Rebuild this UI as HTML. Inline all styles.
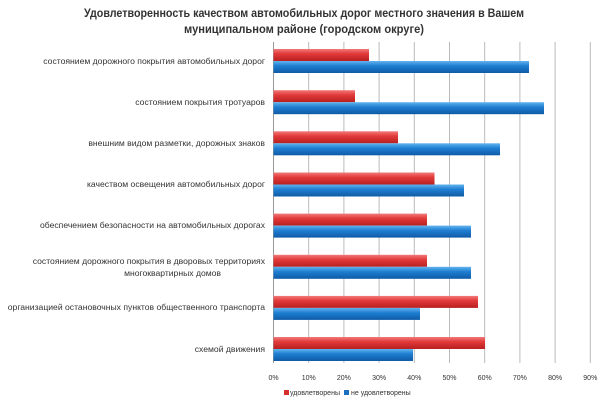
<!DOCTYPE html>
<html><head><meta charset="utf-8"><style>
html,body{margin:0;padding:0;background:#fff;}
svg{display:block;font-family:"Liberation Sans",sans-serif;}
</style></head><body>
<svg width="600" height="400" viewBox="0 0 600 400" xmlns="http://www.w3.org/2000/svg">
<defs>
<linearGradient id="r" x1="0" y1="0" x2="0" y2="1"><stop offset="0" stop-color="#f27a7a"/><stop offset="0.4" stop-color="#e23a3a"/><stop offset="1" stop-color="#b81f1f"/></linearGradient>
<linearGradient id="b" x1="0" y1="0" x2="0" y2="1"><stop offset="0" stop-color="#62b4ee"/><stop offset="0.4" stop-color="#1f7fd2"/><stop offset="1" stop-color="#0f5ba6"/></linearGradient>
</defs>
<text x="84" y="17" font-size="11.5" font-weight="bold" fill="#333" textLength="440" lengthAdjust="spacingAndGlyphs">Удовлетворенность качеством автомобильных дорог местного значения в Вашем</text>
<text x="184" y="33" font-size="11.5" font-weight="bold" fill="#333" textLength="240" lengthAdjust="spacingAndGlyphs">муниципальном районе (городском округе)</text>
<g stroke="#bbb" stroke-width="1">
<line x1="308.7" y1="42" x2="308.7" y2="363"/><line x1="343.9" y1="42" x2="343.9" y2="363"/><line x1="379.1" y1="42" x2="379.1" y2="363"/><line x1="414.3" y1="42" x2="414.3" y2="363"/><line x1="449.5" y1="42" x2="449.5" y2="363"/><line x1="484.7" y1="42" x2="484.7" y2="363"/><line x1="519.9" y1="42" x2="519.9" y2="363"/><line x1="555.1" y1="42" x2="555.1" y2="363"/><line x1="590.3" y1="42" x2="590.3" y2="363"/>
</g>
<line x1="273.5" y1="42" x2="273.5" y2="363" stroke="#999"/>
<g>
<rect x="273.5" y="49" width="95.5" height="12" fill="url(#r)"/><rect x="273.5" y="61" width="255.5" height="12" fill="url(#b)"/>
<rect x="273.5" y="90.2" width="81.5" height="12" fill="url(#r)"/><rect x="273.5" y="102.2" width="270.5" height="12" fill="url(#b)"/>
<rect x="273.5" y="131.3" width="124.5" height="12" fill="url(#r)"/><rect x="273.5" y="143.3" width="226.5" height="12" fill="url(#b)"/>
<rect x="273.5" y="172.5" width="161" height="12" fill="url(#r)"/><rect x="273.5" y="184.5" width="190.5" height="12" fill="url(#b)"/>
<rect x="273.5" y="213.6" width="153.5" height="12" fill="url(#r)"/><rect x="273.5" y="225.6" width="197.5" height="12" fill="url(#b)"/>
<rect x="273.5" y="254.8" width="153.5" height="12" fill="url(#r)"/><rect x="273.5" y="266.8" width="197.5" height="12" fill="url(#b)"/>
<rect x="273.5" y="295.9" width="204.5" height="12" fill="url(#r)"/><rect x="273.5" y="307.9" width="146.5" height="12" fill="url(#b)"/>
<rect x="273.5" y="337" width="211.5" height="12" fill="url(#r)"/><rect x="273.5" y="349" width="139.5" height="12" fill="url(#b)"/>
</g>
<g font-size="8.6" fill="#333" text-anchor="end">
<text x="265" y="64">состоянием дорожного покрытия автомобильных дорог</text>
<text x="265" y="105">состоянием покрытия тротуаров</text>
<text x="265" y="146">внешним видом разметки, дорожных знаков</text>
<text x="265" y="187">качеством освещения автомобильных дорог</text>
<text x="265" y="228">обеспечением безопасности на автомобильных дорогах</text>
<text x="265" y="264">состоянием дорожного покрытия в дворовых территориях</text>
<text x="221" y="276">многоквартирных домов</text>
<text x="265" y="310">организацией остановочных пунктов общественного транспорта</text>
<text x="265" y="352">схемой движения</text>
</g>
<g font-size="7" fill="#333" text-anchor="middle">
<text x="273.5" y="380">0%</text><text x="308.7" y="380">10%</text><text x="343.9" y="380">20%</text><text x="379.1" y="380">30%</text><text x="414.3" y="380">40%</text><text x="449.5" y="380">50%</text><text x="484.7" y="380">60%</text><text x="519.9" y="380">70%</text><text x="555.1" y="380">80%</text><text x="590.3" y="380">90%</text>
</g>
<rect x="284" y="390" width="5" height="5" fill="#d62d2d"/>
<text x="290" y="395" font-size="7" fill="#333">удовлетворены</text>
<rect x="344" y="390" width="5" height="5" fill="#1a6fc0"/>
<text x="351" y="395" font-size="7" fill="#333">не удовлетворены</text>
</svg>
</body></html>
